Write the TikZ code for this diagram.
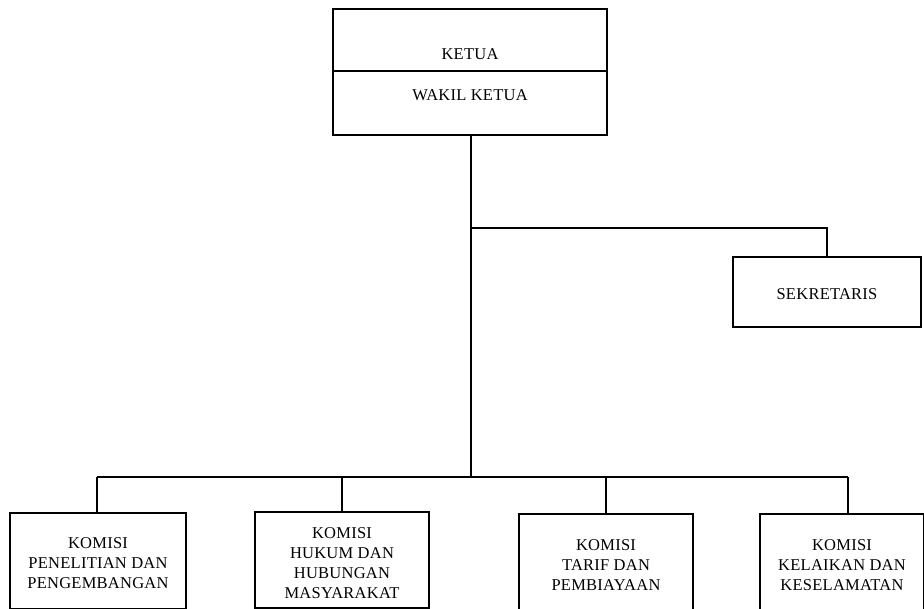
\documentclass[tikz,border=0pt]{standalone}
\usepackage{fontspec}
\setmainfont{Liberation Serif}[LetterSpace=1.5]
\begin{document}
\begin{tikzpicture}[x=1pt,y=-1pt,
  box/.style={draw=black,line width=1.4pt,inner sep=0pt,fill=white},
  lbl/.style={font=\fontsize{16.5}{20}\selectfont,align=center,inner sep=0pt},
  conn/.style={draw=black,line width=1.4pt}]
\useasboundingbox[fill=white] (0,0) rectangle (924,609);
% top box
\node[box,minimum width=274pt,minimum height=62pt] (ketua) at (470,40) {};
\node[box,minimum width=274pt,minimum height=64pt] (wakil) at (470,103) {};
\node[lbl] (tk) at (470,54) {KETUA};
\node[lbl] (tw) at (470,95) {WAKIL KETUA};
% secretary
\node[box,minimum width=188pt,minimum height=70pt] (sek) at (827,292) {};
\node[lbl] (ts) at (827,294) {SEKRETARIS};
% komisi boxes
\node[box,minimum width=176pt,minimum height=96pt] (k1) at (98,561) {};
\node[box,minimum width=174pt,minimum height=96pt] (k2) at (342,560) {};
\node[box,minimum width=174pt,minimum height=96pt] (k3) at (606,562) {};
\node[box,minimum width=164pt,minimum height=96pt] (k4) at (842,562) {};
\node[lbl] (t1) at (98,563) {KOMISI\\PENELITIAN DAN\\PENGEMBANGAN};
\node[lbl] (t2) at (342,563) {KOMISI\\HUKUM DAN\\HUBUNGAN\\MASYARAKAT};
\node[lbl] (t3) at (606,565) {KOMISI\\TARIF DAN\\PEMBIAYAAN};
\node[lbl] (t4) at (842,565) {KOMISI\\KELAIKAN DAN\\KESELAMATAN};
% junctions
\coordinate (j1) at (471,228);
\coordinate (j2) at (471,477);
\coordinate (b1) at (97,477);
\coordinate (b4) at (848,477);
% connectors
\draw[conn] (wakil.south -| j1) -- (j2);
\draw[conn] (j1) -| (sek.north);
\draw[conn] (b1) -- (b4);
\draw[conn] (b1) -- (k1.north -| b1);
\draw[conn] (k2.north |- j2) -- (k2.north);
\draw[conn] (k3.north |- j2) -- (k3.north);
\draw[conn] (b4) -- (k4.north -| b4);
\end{tikzpicture}
\end{document}
